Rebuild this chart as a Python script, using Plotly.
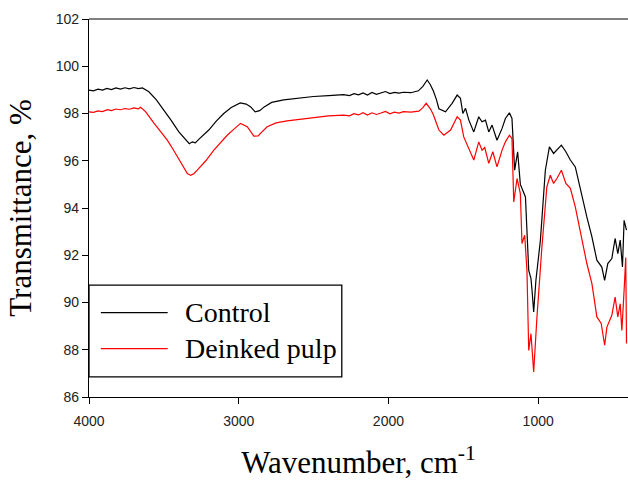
import plotly.graph_objects as go

# Control spectrum (wavenumber, transmittance %)
wn_control = [4000, 3970, 3940, 3910, 3880, 3850, 3820, 3790, 3760, 3730, 3700, 3670, 3643,
              3600, 3550, 3500, 3450, 3400, 3350, 3330, 3310, 3290, 3260, 3200, 3150, 3100,
              3050, 2990, 2950, 2920, 2890, 2860, 2830, 2780, 2700, 2600, 2500, 2400, 2300,
              2260, 2230, 2200, 2170, 2140, 2110, 2080, 2050, 2020, 1990, 1960, 1930, 1900,
              1850, 1800, 1770, 1741, 1720, 1700, 1680, 1663, 1619, 1575, 1541, 1519, 1503,
              1485, 1463, 1430, 1397, 1375, 1352, 1330, 1308, 1275, 1241, 1219, 1192, 1175,
              1157, 1137, 1119, 1097, 1085, 1063, 1048, 1041, 1030, 1015, 985, 952, 925, 897,
              875, 845, 815, 785, 752, 708, 675, 641, 608, 575, 556, 535, 508, 486, 468, 452,
              437, 426, 410]
t_control = [98.99, 98.96, 99.03, 98.99, 99.06, 99.01, 99.08, 99.03, 99.09, 99.04, 99.10, 99.05, 99.08,
             98.92, 98.58, 98.15, 97.70, 97.22, 96.86, 96.72, 96.80, 96.76, 96.95, 97.30, 97.68, 98.00,
             98.25, 98.45, 98.40, 98.28, 98.07, 98.12, 98.28, 98.47, 98.58, 98.66, 98.72, 98.76, 98.80,
             98.76, 98.84, 98.79, 98.87, 98.78, 98.89, 98.81, 98.86, 98.93, 98.84, 98.89, 98.86, 98.90,
             98.88, 98.96, 99.15, 99.42, 99.22, 98.95, 98.60, 98.20, 98.07, 98.43, 98.78, 98.64, 98.00,
             98.22, 97.72, 97.22, 97.86, 97.65, 97.72, 97.22, 97.51, 96.87, 97.37, 97.79, 98.03, 97.79,
             95.60, 96.38, 95.00, 94.68, 94.47, 91.36, 91.01, 90.52, 89.60, 90.94, 92.64, 95.60, 96.59, 96.31,
             96.45, 96.66, 96.38, 96.03, 95.74, 94.47, 93.62, 92.78, 91.79, 91.50, 90.94, 91.65, 91.86, 92.71,
             92.07, 92.64, 91.50, 93.48, 93.06]

# Deinked pulp spectrum
wn_deinked = [4000, 3970, 3940, 3910, 3877, 3850, 3820, 3790, 3760, 3730, 3700, 3670, 3655,
              3621, 3565, 3520, 3477, 3440, 3410, 3370, 3343, 3321, 3300, 3277, 3220, 3166,
              3120, 3077, 3030, 2988, 2943, 2915, 2899, 2870, 2855, 2810, 2750, 2677, 2600,
              2500, 2400, 2300, 2260, 2230, 2200, 2170, 2140, 2110, 2080, 2050, 2020, 1990,
              1960, 1930, 1900, 1850, 1797, 1770, 1748, 1720, 1700, 1680, 1663, 1630, 1585,
              1541, 1519, 1497, 1463, 1430, 1397, 1375, 1357, 1330, 1303, 1275, 1241, 1219,
              1192, 1175, 1163, 1141, 1119, 1108, 1090, 1075, 1063, 1048, 1030, 1008, 975,
              942, 919, 897, 875, 845, 815, 785, 752, 708, 675, 641, 608, 579, 556, 541, 508,
              486, 468, 452, 441, 426, 415, 410]
t_deinked = [98.07, 98.05, 98.11, 98.08, 98.16, 98.12, 98.19, 98.16, 98.21, 98.18, 98.24, 98.20, 98.26,
             98.07, 97.58, 97.20, 96.87, 96.50, 96.17, 95.75, 95.46, 95.38, 95.45, 95.60, 96.00, 96.45,
             96.80, 97.08, 97.35, 97.58, 97.44, 97.20, 97.04, 97.05, 97.16, 97.44, 97.60, 97.69, 97.75,
             97.82, 97.90, 97.93, 97.90, 97.99, 97.94, 98.03, 97.93, 98.03, 97.96, 98.02, 98.09, 97.99,
             98.06, 98.02, 98.08, 98.06, 98.10, 98.25, 98.43, 98.20, 97.95, 97.60, 97.30, 97.08, 97.30,
             97.86, 97.72, 97.01, 96.52, 96.03, 96.80, 96.45, 96.56, 95.89, 96.38, 95.74, 96.45, 96.80,
             97.08, 96.94, 94.26, 95.25, 94.61, 92.50, 92.85, 91.36, 87.97, 88.68, 87.06, 89.39, 92.35,
             94.89, 95.39, 95.04, 95.25, 95.60, 95.04, 94.83, 94.05, 92.64, 91.65, 90.80, 89.39, 89.11,
             88.19, 88.96, 89.46, 90.23, 89.39, 89.95, 88.82, 90.52, 91.90, 88.26]

x_ticks = [4000, 3000, 2000, 1000]
y_ticks = [86, 88, 90, 92, 94, 96, 98, 100, 102]
series_names = ["Control", "Deinked pulp"]
series_colors = ["#000000", "#ff0000"]

fig = go.Figure()
fig.add_trace(go.Scatter(x=wn_control, y=t_control, mode="lines", name=series_names[0],
                         line=dict(color=series_colors[0], width=1.2), showlegend=False))
fig.add_trace(go.Scatter(x=wn_deinked, y=t_deinked, mode="lines", name=series_names[1],
                         line=dict(color=series_colors[1], width=1.2), showlegend=False))

serif = "Liberation Serif, Times New Roman, serif"
sans = "Liberation Sans, Arial, sans-serif"

fig.update_layout(
    width=628, height=480,
    margin=dict(l=89, r=0, t=19, b=83, autoexpand=False),
    paper_bgcolor="white", plot_bgcolor="white",
    xaxis=dict(range=[4000, 400], tickvals=x_ticks, ticks="outside", ticklen=6,
               tickcolor="black", showline=True, linecolor="black", linewidth=1.3,
               showgrid=False, zeroline=False, automargin=False, ticklabelstandoff=5,
               tickfont=dict(family=sans, size=14, color="#222"),
               title=dict(text="Wavenumber, cm<sup>-1</sup>",
                          font=dict(family=serif, size=31, color="black"), standoff=26)),
    yaxis=dict(range=[86, 102], tickvals=y_ticks, ticks="outside", ticklen=6,
               tickcolor="black", showline=True, linecolor="black", linewidth=1.3,
               showgrid=False, zeroline=False, automargin=False,
               tickfont=dict(family=sans, size=14, color="#222"),
               title=dict(text="Transmittance, %",
                          font=dict(family=serif, size=31, color="black"), standoff=14)),
)

# top frame line
fig.add_shape(type="line", xref="paper", yref="paper", x0=0, x1=1, y0=1, y1=1,
              line=dict(color="#555", width=1.5))

# legend box drawn manually
fig.add_shape(type="rect", xref="paper", yref="paper", x0=0, x1=0.469, y0=0.053, y1=0.296,
              line=dict(color="black", width=1.3), fillcolor="white", layer="above")
leg_y = [0.223, 0.128]
for name, color, yy in zip(series_names, series_colors, leg_y):
    fig.add_shape(type="line", xref="paper", yref="paper", x0=0.022, x1=0.146, y0=yy, y1=yy,
                  line=dict(color=color, width=1.3), layer="above")
    fig.add_annotation(xref="paper", yref="paper", x=0.175, y=yy, text=name, showarrow=False,
                       xanchor="left", yanchor="middle",
                       font=dict(family=serif, size=28, color="black"))

post = ("document.body.style.margin='0';document.body.style.padding='0';"
        "document.body.style.overflow='hidden';"
        "document.documentElement.style.overflow='hidden';")
fig.write_html("out.html", post_script=post, config={"displayModeBar": False})
